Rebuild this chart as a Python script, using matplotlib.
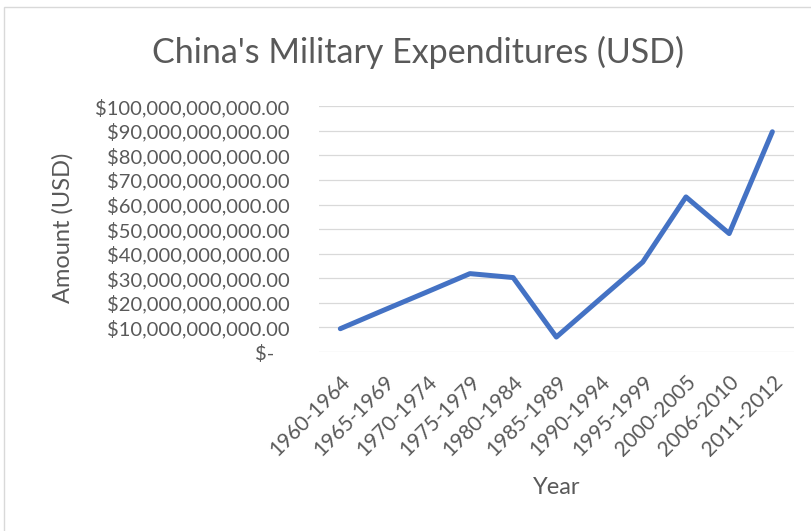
import matplotlib.pyplot as plt
from matplotlib.patches import Rectangle
from matplotlib.ticker import FuncFormatter, MultipleLocator

periods = ["1960-1964", "1965-1969", "1970-1974", "1975-1979", "1980-1984",
           "1985-1989", "1990-1994", "1995-1999", "2000-2005", "2006-2010",
           "2011-2012"]
spending = [9.5e9, 17.0e9, 24.4e9, 31.9e9, 30.3e9, 6.1e9, 21.4e9, 36.6e9,
            63.1e9, 48.2e9, 89.6e9]

TEXT = "#595959"
FONT = "Lato"


def usd(v, pos):
    # accounting style: zero shows as a dash, padded on the right
    if v == 0:
        return "$-   "
    return "${:,.2f}".format(v)


fig = plt.figure(figsize=(8.11, 5.31), dpi=100)
ax = fig.add_axes([0.393, 0.337, 0.586, 0.463])

x = range(len(periods))
ax.plot(x, spending, color="#4472C4", linewidth=3.6, solid_capstyle="round",
        solid_joinstyle="round", zorder=3)

ax.set_xlim(-0.5, len(periods) - 0.5)
ax.set_ylim(0, 100e9)
ax.yaxis.set_major_locator(MultipleLocator(10e9))
ax.yaxis.set_major_formatter(FuncFormatter(usd))
ax.grid(axis="y", color="#D9D9D9", linewidth=0.9)
ax.set_axisbelow(True)
for s in ax.spines.values():
    s.set_visible(False)
ax.tick_params(length=0, colors=TEXT, labelsize=14.5)
ax.tick_params(axis="y", pad=21)
ax.tick_params(axis="x", pad=14)
ax.set_xticks(list(x))
ax.set_xticklabels(periods, rotation=45, ha="right", rotation_mode="anchor",
                   fontfamily=FONT, fontsize=15)
for lbl in ax.get_yticklabels():
    lbl.set_fontfamily(FONT)

# title and axis titles placed on the figure
fig.text(0.515, 0.902, "China's Military Expenditures (USD)", color=TEXT,
         fontsize=24.5, fontfamily=FONT, ha="center", va="center")
fig.text(0.078, 0.571, "Amount (USD)", color=TEXT, fontsize=17,
         fontfamily=FONT, rotation=90, ha="center", va="center")
fig.text(0.687, 0.081, "Year", color=TEXT, fontsize=17, fontfamily=FONT,
         ha="center", va="center")

# light border around the chart area (right and bottom edges run off the image)
fig.patches.append(Rectangle((0.005, -0.05), 1.05, 1.037, transform=fig.transFigure,
                             fill=False, edgecolor="#D9D9D9", linewidth=1))

fig.savefig("out.png", dpi=100)
